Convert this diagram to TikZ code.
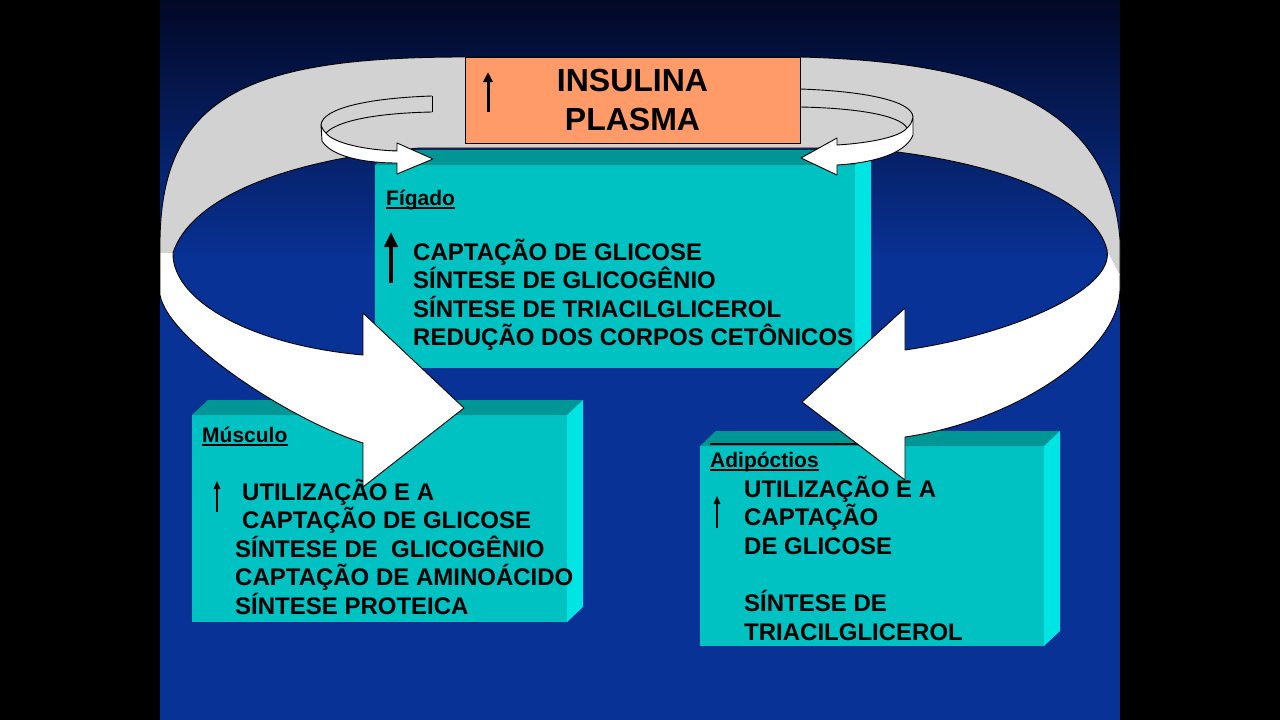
\documentclass[tikz,border=0pt]{standalone}
\usepackage{fontspec}
\setmainfont{Liberation Sans}
\usetikzlibrary{arrows.meta}

\definecolor{slidetop}{RGB}{2,8,38}
\definecolor{slideblue}{RGB}{8,50,150}
\definecolor{bandgray}{RGB}{210,210,210}
\definecolor{boxfront}{RGB}{0,194,194}
\definecolor{boxtop}{RGB}{0,150,150}
\definecolor{boxside}{RGB}{0,228,228}
\definecolor{insorange}{RGB}{255,155,105}

% top and right faces of a cyan block, drawn from its front node
\newcommand{\blockfaces}[1]{%
  \fill[boxtop] (#1.north west) -- ++(16,-15) -- ([shift={(16,-15)}]#1.north east) -- (#1.north east) -- cycle;
  \fill[boxside] (#1.north east) -- ++(16,-15) -- ([shift={(16,-15)}]#1.south east) -- (#1.south east) -- cycle;}

\begin{document}
\begin{tikzpicture}[x=1pt, y=-1pt, line join=round,
    front/.style={fill=boxfront, inner sep=0pt, outer sep=0pt, anchor=north west},
    title/.style={anchor=base west, inner sep=0pt, font=\bfseries\fontsize{21}{25}\selectfont},
    listtxt/.style={anchor=base west, inner sep=0pt, font=\bfseries\fontsize{24}{29}\selectfont},
    edge/.style={draw=black, line width=0.9pt},
    uparrow/.style={-{Triangle[length=8pt,width=6.5pt]}, line width=1.5pt}]

    % slide
    \fill[black] (0,0) rectangle (1280,720);
    \shade[top color=slidetop, bottom color=slideblue] (160,0) rectangle (1120,260);
    \fill[slideblue] (160,259) rectangle (1120,720);

    % grey ring behind
    \fill[bandgray] (173,253) .. controls (190,200) and (280,160) .. (420,148) -- (860,148)
        .. controls (1000,160) and (1095,200) .. (1107,250) -- (1120,275) -- (1120,240)
        .. controls (1110,110) and (1000,62) .. (800,57) -- (465,57)
        .. controls (250,57) and (162,95) .. (160,240) -- (160,253) -- cycle;
    \draw[edge] (160,253) -- (160,240) .. controls (162,95) and (250,57) .. (465,57) -- (800,57)
        .. controls (1000,62) and (1110,110) .. (1120,240) -- (1120,275);
    \draw[edge] (173,253) .. controls (190,200) and (280,160) .. (420,148) -- (860,148)
        .. controls (1000,160) and (1095,200) .. (1107,250);

    % Figado
    \node[front, minimum width=480pt, minimum height=203pt] (figado) at (375,165) {};
    \blockfaces{figado}
    \node[title] (figt) at (386,205) {Fígado};
    \draw[line width=1.5pt] ([yshift=-3pt]figt.base west) -- ([yshift=-3pt]figt.base east);
    \foreach \txt [count=\i from 0] in {CAPTAÇÃO DE GLICOSE, SÍNTESE DE GLICOGÊNIO,
        SÍNTESE DE TRIACILGLICEROL, REDUÇÃO DOS CORPOS CETÔNICOS}
      \node[listtxt] (fig\i) at (413,260+28.6*\i) {\txt};
    \coordinate (figa0) at (391,283);
    \coordinate (figa1) at (391,232);
    \draw[-{Triangle[length=15pt,width=13pt]}, line width=4pt] (figa0) -- (figa1);

    % insulina
    \node[draw, fill=insorange, line width=0.8pt, minimum width=335pt, minimum height=86pt,
          inner sep=0pt, outer sep=0pt, anchor=north west, align=center,
          font=\bfseries\fontsize{32}{39}\selectfont] (ins) at (465,57) {INSULINA\\PLASMA};
    \coordinate (insa0) at (488,112);
    \coordinate (insa1) at (488,72);
    \draw[-{Triangle[length=10pt,width=9pt]}, line width=3pt] (insa0) -- (insa1);

    % small ribbon arrows
    \draw[edge] (432,96) .. controls (370,98) and (322,108) .. (321,125);
    \draw[edge] (432,112) .. controls (380,113) and (338,120) .. (326,133);
    \draw[edge] (432,96) -- (432,112);
    \filldraw[edge, fill=white] (321,125) -- (322,141) .. controls (332,157) and (365,163) .. (397,163)
        -- (397,174) -- (433,159) -- (397,143) -- (397,151)
        .. controls (365,150) and (333,143) .. (326,133) .. controls (323,130) .. (321,125) -- cycle;
    \draw[edge] (800,89) .. controls (860,91) and (912,100) .. (913,117);
    \draw[edge] (800,107) .. controls (855,108) and (900,115) .. (907,128);
    \filldraw[edge, fill=white] (913,117) -- (913,135) .. controls (905,155) and (870,163) .. (837,165)
        -- (837,175) -- (801,158) -- (837,138) -- (837,145)
        .. controls (870,143) and (900,137) .. (907,128) .. controls (911,124) .. (913,117) -- cycle;

    % Musculo
    \node[front, minimum width=375pt, minimum height=207pt] (musculo) at (192,415) {};
    \blockfaces{musculo}
    \node[title] (must) at (202,442) {Músculo};
    \draw[line width=1.5pt] ([yshift=-3pt]must.base west) -- ([yshift=-3pt]must.base east);
    \foreach \x/\txt [count=\i from 0] in {242/UTILIZAÇÃO E A, 242/CAPTAÇÃO DE GLICOSE,
        235/SÍNTESE DE\ \ GLICOGÊNIO, 235/CAPTAÇÃO DE AMINOÁCIDO, 235/SÍNTESE PROTEICA}
      \node[listtxt] (mus\i) at (\x,500+28.5*\i) {\txt};
    \coordinate (musa0) at (217,512);
    \coordinate (musa1) at (217,481);
    \draw[uparrow] (musa0) -- (musa1);

    % Adipoctios
    \node[front, minimum width=344pt, minimum height=200pt] (adipo) at (700,446) {};
    \blockfaces{adipo}
    \coordinate (adl0) at (710,444);
    \coordinate (adl1) at (880,444);
    \draw[line width=2pt] (adl0) -- (adl1);
    \node[title] (adit) at (710,467) {Adipóctios};
    \draw[line width=1.5pt] ([yshift=-3pt]adit.base west) -- ([yshift=-3pt]adit.base east);
    \foreach \y/\txt [count=\i from 0] in {497/UTILIZAÇÃO E A, 525.5/CAPTAÇÃO, 554/DE GLICOSE,
        611/SÍNTESE DE, 640/TRIACILGLICEROL}
      \node[listtxt] (adi\i) at (744,\y) {\txt};
    \coordinate (adia0) at (717,528);
    \coordinate (adia1) at (717,496);
    \draw[uparrow] (adia0) -- (adia1);

    % big white arrows coming out of the ring
    \filldraw[edge, fill=white] (173,253) .. controls (172,300) and (250,345) .. (363,355)
        -- (363,313) -- (464,408) -- (363,487) -- (363,443)
        .. controls (290,420) and (168,340) .. (160,295) -- (160,253);
    \filldraw[edge, fill=white] (1107,250) .. controls (1115,290) and (1010,335) .. (905,350)
        -- (905,308) -- (802,402) -- (905,480) -- (905,437)
        .. controls (1010,422) and (1118,355) .. (1120,290) -- (1120,275);
\end{tikzpicture}
\end{document}
